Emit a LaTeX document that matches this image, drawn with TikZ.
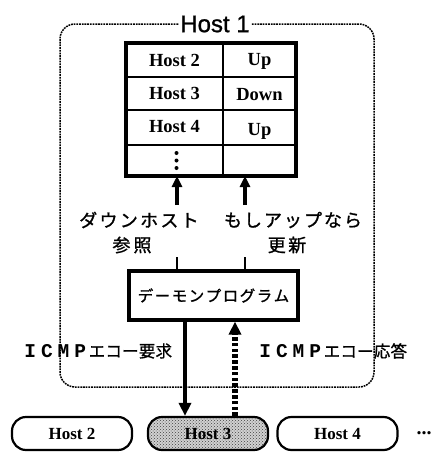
\documentclass[tikz,border=0pt]{standalone}
\usepackage{fontspec}
\setmainfont{Liberation Serif}
\newfontfamily\jp{Noto Sans CJK JP}[FakeBold=1.2]
\newfontfamily\hsans{Liberation Sans}[FakeBold=1]
\newfontfamily\mono{Liberation Mono}
\usetikzlibrary{arrows.meta,patterns}

% set every character of a string in a box of fixed width
\newlength\cellw
\newcommand\spread[2]{\setlength\cellw{#1}\spreadloop#2\relax}
\def\spreadloop#1{\ifx#1\relax\else\makebox[\cellw]{#1}\expandafter\spreadloop\fi}

\tikzset{
  grp/.style={draw, line width=1.5pt, dash pattern=on 1.8pt off 0.9pt, rounded corners=15pt},
  cell/.style={font=\fontsize{18.5}{20}\selectfont\bfseries, inner sep=0pt},
  jlabel/.style={font=\jp\fontsize{18}{20}\selectfont, inner sep=0pt},
  box/.style={draw, line width=3.2pt},
  host/.style={draw, line width=2.2pt, rounded corners=14pt, minimum width=120pt, minimum height=33pt,
    font=\fontsize{17}{19}\selectfont\bfseries, inner sep=0pt},
  uparrow/.style={line width=3.4pt, -{Triangle[length=11pt,width=10pt]}},
  req/.style={line width=4.2pt, -{Triangle[length=13pt,width=12pt]}},
  rep/.style={line width=5.2pt, dash pattern=on 3.6pt off 2.2pt, -{Triangle[length=13pt,width=12pt]}},
}

\begin{document}
\begin{tikzpicture}[x=1pt,y=-1pt]
\useasboundingbox (0,0) rectangle (432,455);

% Host 1 group
\draw[grp] (60,24) rectangle (374,387);
\node[font=\hsans\fontsize{24}{26}\selectfont, fill=white, inner sep=1pt] (h1) at (215,24) {Host 1};

% status table
\draw[line width=2pt] (126,77) -- (296,77) (126,110) -- (296,110) (126,145) -- (296,145) (223,43) -- (223,176);
\draw[line width=3.4pt] (126,43) rectangle (296,176);
\coordinate (tbl) at (211,176);
\node[cell] (r1a) at (174.5,60) {Host 2};
\node[cell] (r1b) at (259.5,61) {Up};
\node[cell] (r2a) at (174.5,93.5) {Host 3};
\node[cell] (r2b) at (259.5,94.5) {Down};
\node[cell] (r3a) at (174.5,127) {Host 4};
\node[cell] (r3b) at (259.5,131) {Up};
% vertical ellipsis in the last row
\foreach \y in {153,160.5,168} \fill (176.5,\y) circle (2pt);

% labels between the daemon and the table
\node[jlabel] (lookA) at (139,220) {\spread{20.3pt}{ダウンホスト}};
\node[jlabel] (lookB) at (132,245) {\spread{21pt}{参照}};
\node[jlabel] (updA) at (293,220) {\spread{20pt}{もしアップなら}};
\node[jlabel] (updB) at (287,245) {\spread{20.5pt}{更新}};

% daemon program
\node[box, minimum width=169pt, minimum height=49pt, inner sep=0pt,
  font=\jp\fontsize{15.5}{17}\selectfont] (dmn) at (213.5,295.5) {\spread{17pt}{デーモンプログラム}};

\coordinate (ta) at (177,205);
\coordinate (tb) at (245,205);
\coordinate (sa) at (177,257);
\coordinate (sb) at (245,257);
\draw[uparrow] (ta) -- (ta |- tbl);
\draw[uparrow] (tb) -- (tb |- tbl);
\draw[line width=2.2pt] (sa) -- (sa |- dmn.north);
\draw[line width=2.2pt] (sb) -- (sb |- dmn.north);

% hosts on the network
\node[host] (hb) at (72,433.5) {Host 2};
\node[host, preaction={fill=black!18}, pattern=crosshatch dots, pattern color=black!75] (hc) at (208,433.5) {};
\node[font=\fontsize{17}{19}\selectfont\bfseries, inner sep=0pt] (hcl) at (hc) {Host 3};
\node[host] (hd) at (337.5,433.5) {Host 4};
\node[font=\fontsize{20}{20}\selectfont\bfseries, inner sep=0pt] (more) at (424,433) {...};

% ICMP echo request and reply
\coordinate (qa) at (185,0);
\coordinate (qb) at (235,0);
\draw[req] (qa |- dmn.south) -- (qa |- hc.north);
\draw[rep] (qb |- hc.north) -- (qb |- dmn.south);

\node[inner sep=0pt] (reqlbl) at (97,351)
  {{\mono\bfseries\fontsize{19.5}{20}\selectfont\spread{16.7pt}{ICMP}}{\jp\fontsize{16.5}{18}\selectfont\spread{16.7pt}{エコー要求}}};
\node[inner sep=0pt] (replbl) at (332,351)
  {{\mono\bfseries\fontsize{19.5}{20}\selectfont\spread{16.7pt}{ICMP}}{\jp\fontsize{16.5}{18}\selectfont\spread{16.7pt}{エコー応答}}};
\end{tikzpicture}
\end{document}
